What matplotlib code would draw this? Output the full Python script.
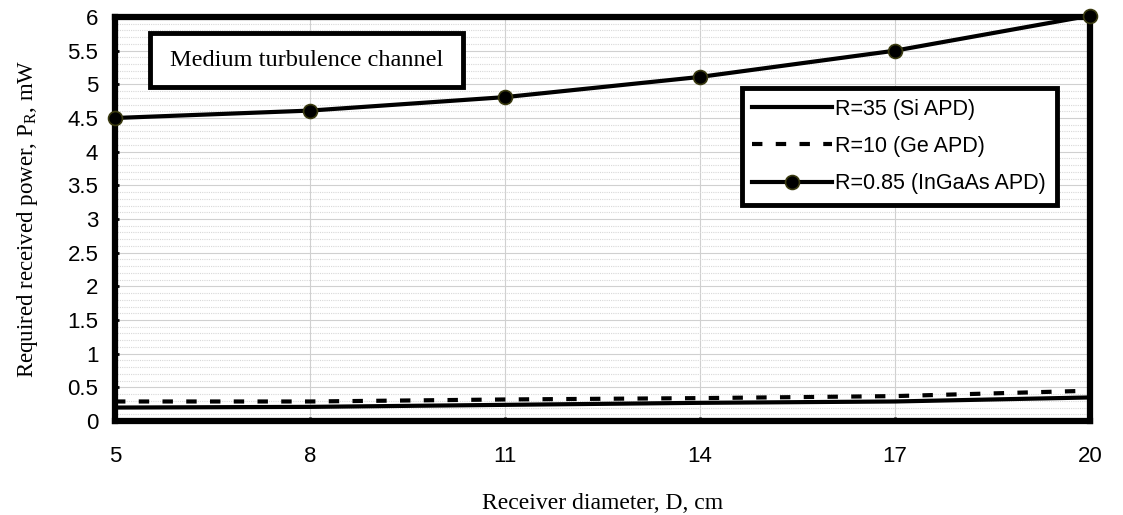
import matplotlib.pyplot as plt
from matplotlib.ticker import MultipleLocator
from matplotlib.patches import Rectangle

# receiver diameter (cm)
diam = [5, 8, 11, 14, 17, 20]
# required received power (mW)
p_si = [0.20, 0.21, 0.24, 0.27, 0.29, 0.35]
p_ge = [0.29, 0.29, 0.32, 0.34, 0.37, 0.45]
p_ingaas = [4.50, 4.61, 4.81, 5.11, 5.50, 6.02]

labels = ["R=35 (Si APD)", "R=10 (Ge APD)", "R=0.85 (InGaAs APD)"]

plt.rcParams['font.family'] = ['Liberation Sans', 'DejaVu Sans']

fig = plt.figure(figsize=(11.23, 5.15), dpi=100)
ax = fig.add_axes([0.1024, 0.1825, 0.8682, 0.7845])

ax.plot(diam, p_si, color='black', lw=3, label=labels[0])
ax.plot(diam, p_ge, color='black', lw=3, ls=(0, (2.5, 3.2)), label=labels[1])
ax.plot(diam, p_ingaas, color='black', lw=3, marker='o', ms=10,
        mfc='black', mec='#3a3a10', mew=1.2, label=labels[2], clip_on=False, zorder=5)

ax.set_xlim(5, 20)
ax.set_ylim(0, 6)
ax.set_xticks(diam)
ax.yaxis.set_major_locator(MultipleLocator(0.5))
ax.yaxis.set_minor_locator(MultipleLocator(0.1))
ax.grid(which='minor', axis='y', color='#d8d8d8', lw=0.8, ls=(0, (1, 1)))
ax.grid(which='major', axis='y', color='#d0d0d0', lw=0.8)
ax.grid(which='major', axis='x', color='#d0d0d0', lw=0.8)
ax.set_axisbelow(True)

for s in ax.spines.values():
    s.set_linewidth(4.5)
    s.set_color('black')

ax.tick_params(axis='both', which='major', labelsize=16, direction='in', length=3, width=2)
ax.tick_params(axis='y', which='minor', direction='in', length=2, width=1.5, left=True)
ax.tick_params(axis='y', pad=12)
ax.tick_params(axis='x', pad=18)
ax.yaxis.set_major_formatter(plt.FuncFormatter(lambda v, p: f"{v:g}"))

ax.set_xlabel("Receiver diameter, D, cm", family='Liberation Serif', fontsize=17, labelpad=19)
ax.set_ylabel("Required received power, P$_\\mathregular{R}$, mW", family='Liberation Serif',
              fontsize=16.5, labelpad=20)

# title box
ax.add_patch(Rectangle((0.036, 0.826), 0.321, 0.134, transform=ax.transAxes,
                       fc='white', ec='black', lw=3.5, zorder=6))
ax.text(0.1965, 0.892, "Medium turbulence channel", transform=ax.transAxes,
        family='Liberation Serif', fontsize=17.5, ha='center', va='center', zorder=7)

leg = ax.legend(loc='upper right', bbox_to_anchor=(0.966, 0.824), borderaxespad=0,
                fontsize=15.5, frameon=True, fancybox=False, framealpha=1, edgecolor='black',
                handlelength=3.7, handletextpad=0.15, borderpad=0.5, labelspacing=0.75)
leg.get_frame().set_linewidth(3.5)
leg.set_zorder(8)

fig.savefig("out.png", dpi=100)
